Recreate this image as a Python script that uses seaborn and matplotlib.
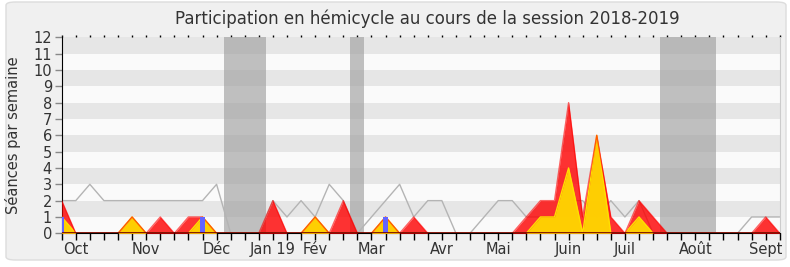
import matplotlib
matplotlib.use("Agg")
import matplotlib.pyplot as plt
from matplotlib.patches import FancyBboxPatch
import seaborn as sns
import numpy as np
import pandas as pd

# ---- data (one value per week, 52 weeks) ----
weeks = list(range(52))
mediane = [2, 2, 3, 2, 2, 2, 2, 2, 2, 2, 2, 3, 0, 0, 0, 2, 1, 2, 1, 3,
           2, 0, 1, 2, 3, 1, 2, 2, 0, 0, 1, 2, 2, 1, 1, 1, 2, 2, 1, 2,
           1, 2, 0, 0, 0, 0, 0, 0, 0, 1, 1, 1]
presences = [2, 0, 0, 0, 0, 1, 0, 1, 0, 1, 1, 0, 0, 0, 0, 2, 0, 0, 1, 0,
             2, 0, 0, 1, 0, 1, 0, 0, 0, 0, 0, 0, 0, 1, 2, 2, 8, 1, 6, 1,
             0, 2, 1, 0, 0, 0, 0, 0, 0, 0, 1, 0]
interventions = [1, 0, 0, 0, 0, 1, 0, 0, 0, 0, 1, 0, 0, 0, 0, 0, 0, 0, 1, 0,
                 0, 0, 0, 1, 0, 0, 0, 0, 0, 0, 0, 0, 0, 0, 1, 1, 4, 0, 6, 0,
                 0, 1, 0, 0, 0, 0, 0, 0, 0, 0, 0, 0]
questions = [1, 0, 0, 0, 0, 0, 0, 0, 0, 0, 1, 0, 0, 0, 0, 0, 0, 0, 0, 0,
             0, 0, 0, 1, 0, 0, 0, 0, 0, 0, 0, 0, 0, 0, 0, 0, 0, 0, 0, 0,
             0, 0, 0, 0, 0, 0, 0, 0, 0, 0, 0, 0]
vacances = [(11.5, 14.5), (20.5, 21.5), (42.5, 46.5)]
month_pos = [1, 6, 11, 15, 18, 22, 27, 31, 36, 40, 45, 50]
month_labels = ["Oct", "Nov", "Déc", "Jan 19", "Fév", "Mar", "Avr", "Mai",
                "Juin", "Juil", "Août", "Sept"]

df = pd.DataFrame({"semaine": weeks, "mediane": mediane,
                   "presences": presences, "interventions": interventions,
                   "questions": questions})

sns.set_style("white")
plt.rcParams["font.family"] = ["DejaVu Sans"]

fig = plt.figure(figsize=(7.9, 2.67), dpi=100, facecolor="white")
panel = FancyBboxPatch((6 / 790, 7 / 267), 780 / 790, 258 / 267,
                       boxstyle="round,pad=0,rounding_size=0.012",
                       transform=fig.transFigure, facecolor="#f0f0f0",
                       edgecolor="#dcdcdc", linewidth=1.0, zorder=-10)
fig.patches.append(panel)

ax = fig.add_axes([61.7 / 790, 33.7 / 267, 718.1 / 790, 196 / 267])
ax.set_zorder(1)
ax.set_facecolor("#fafafa")
ax.set_xlim(0, 51)
ax.set_ylim(0, 12)

# horizontal bands
for y0 in range(1, 12, 2):
    ax.axhspan(y0, y0 + 1, color="#e6e6e6", lw=0, zorder=0)
# holiday spans
for a, b in vacances:
    ax.axvspan(a, b, color="#a0a0a0", alpha=0.65, lw=0, zorder=1)

# median line
sns.lineplot(data=df, x="semaine", y="mediane", ax=ax, color="#b4b4b4",
             lw=1.0, zorder=2)

# areas
ax.fill_between(df["semaine"], df["presences"], color="#ff0000", alpha=0.8,
                lw=0, zorder=3)
ax.fill_between(df["semaine"], df["interventions"], color="#ffd700",
                alpha=0.95, lw=0, zorder=4)
ax.plot(df["semaine"], df["interventions"], color="#ffe000", lw=1.0, zorder=5)
ax.plot(df["semaine"], df["presences"], color="#ff0000", lw=1.0, alpha=0.6,
        zorder=6)

# questions bars
ax.bar(df["semaine"], df["questions"], width=0.3, color="#6464ff", lw=0,
       zorder=7)

ax.axhline(0, color="#700000", lw=1.2, zorder=8)

ax.set_xticks(weeks)
labels = [""] * len(weeks)
for p, l in zip(month_pos, month_labels):
    labels[p] = l
ax.set_xticklabels(labels, fontsize=10.5, color="#333333")
ax.set_yticks(range(13))
ax.set_yticklabels([str(i) for i in range(13)], fontsize=10.5, color="#333333")
ax.tick_params(axis="x", which="both", bottom=True, top=True, direction="out",
               length=5, width=1, color="black", pad=1)
for t in ax.xaxis.get_major_ticks():
    t.tick2line.set_markersize(1.5)
ax.tick_params(axis="y", left=True, length=5, width=1, color="#888888", pad=2)
ax.set_xlabel("")
ax.set_ylabel("Séances par semaine", fontsize=10.5, color="#333333", labelpad=9)

ax.spines["top"].set_visible(False)
ax.spines["right"].set_color("#cccccc")
ax.spines["left"].set_color("black")
ax.spines["bottom"].set_color("black")

fig.text(427 / 790, 1 - 19 / 267,
         "Participation en hémicycle au cours de la session 2018-2019",
         ha="center", va="center", fontsize=12, color="#333333")

fig.savefig("out.png", dpi=100, facecolor="white")
